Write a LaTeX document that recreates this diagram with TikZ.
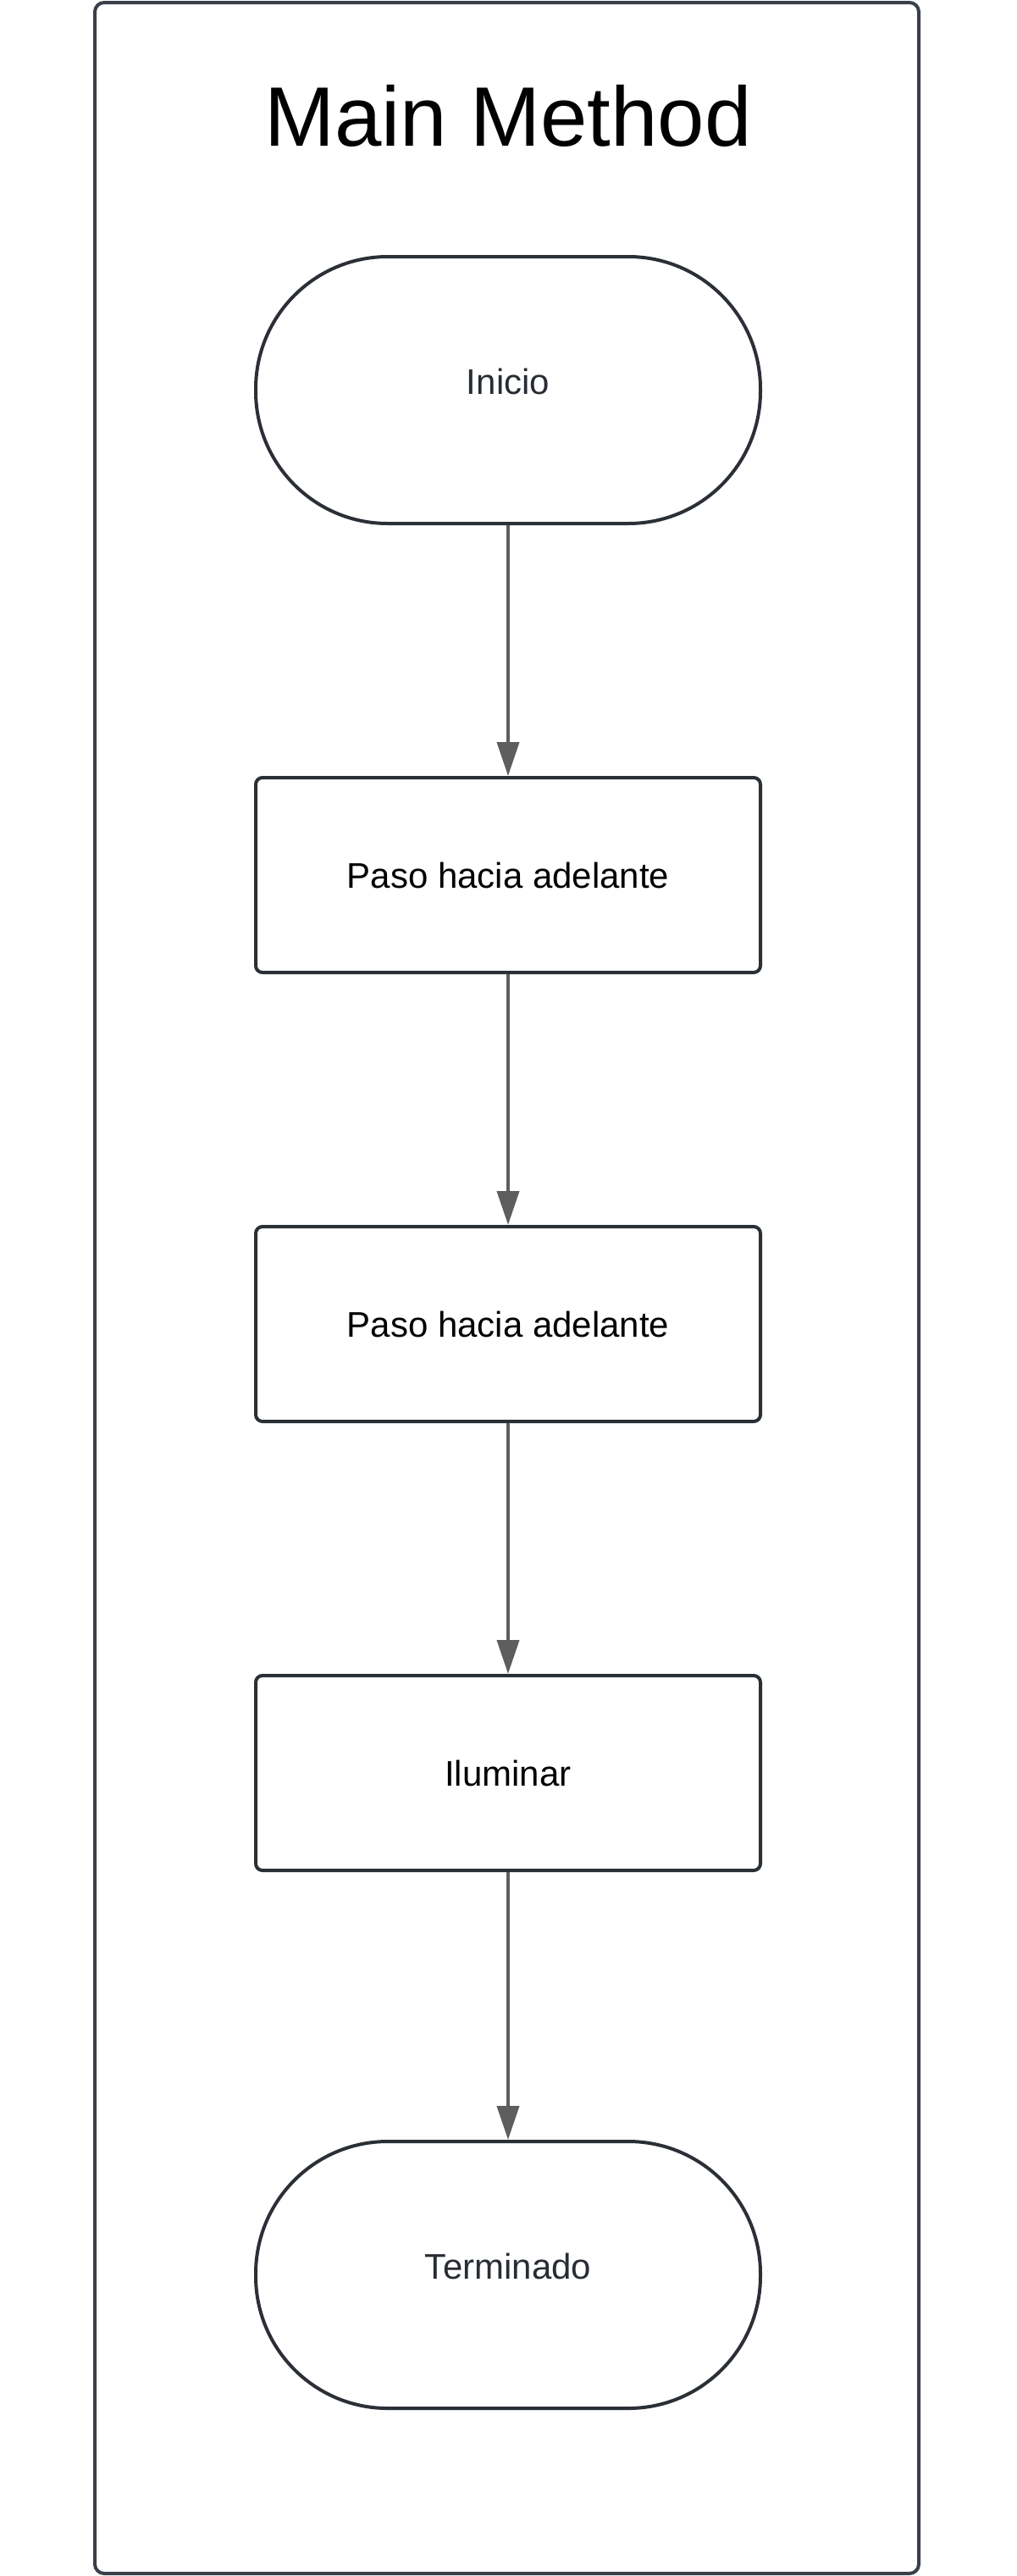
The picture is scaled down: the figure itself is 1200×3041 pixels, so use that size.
\documentclass[tikz,border=0pt]{standalone}
\usepackage{fontspec}
\setmainfont{Liberation Sans}
\usepackage{xcolor}
\usepackage{tikz}
\usetikzlibrary{arrows.meta,positioning}
\definecolor{framegray}{HTML}{3A4049}
\definecolor{boxline}{HTML}{2B2F36}
\definecolor{arrgray}{HTML}{5E5E5E}
\definecolor{termtext}{HTML}{282C33}
\tikzset{%
  block/.style    = {draw=boxline, line width=2pt, rectangle, rounded corners=4pt,
    minimum width = 298pt, minimum height = 115pt, font=\fontsize{21}{25}\selectfont},
  term/.style     = {draw=boxline, line width=2pt, rectangle, rounded corners=78pt,
    minimum width = 298pt, minimum height = 157.5pt, text=termtext,
    text height=15pt, text depth=10pt, font=\fontsize{21}{25}\selectfont}, % Start / end
  frame/.style    = {draw=framegray, line width=2pt, rounded corners=5.5pt},
  flow/.style     = {draw=arrgray, line width=2pt,
    -{Triangle[length=20pt, width=13pt]}} % Connector
}

\begin{document}
\begin{tikzpicture}[x=0.5pt, y=-0.5pt, node distance=148pt]
        \useasboundingbox (0,0) rectangle (1200,3041);
        \draw[frame] (112,3) rectangle (1085,3038);
        \node[anchor=base] (title) at (600,172) {\fontsize{49.8}{60}\selectfont Main Method};
        \draw
            node [term] (start) at (600,460.5) {Inicio}
            node [block, below=of start] (step1) {Paso hacia adelante}
            node [block, below=of step1] (step2) {Paso hacia adelante}
            node [block, below=of step2] (light) {Iluminar}
            node [term, below=158pt of light] (finish) {Terminado};
            \draw[flow] (start) -- (step1);
            \draw[flow] (step1) -- (step2);
            \draw[flow] (step2) -- (light);
            \draw[flow] (light) -- (finish);
        \end{tikzpicture}
\end{document}
